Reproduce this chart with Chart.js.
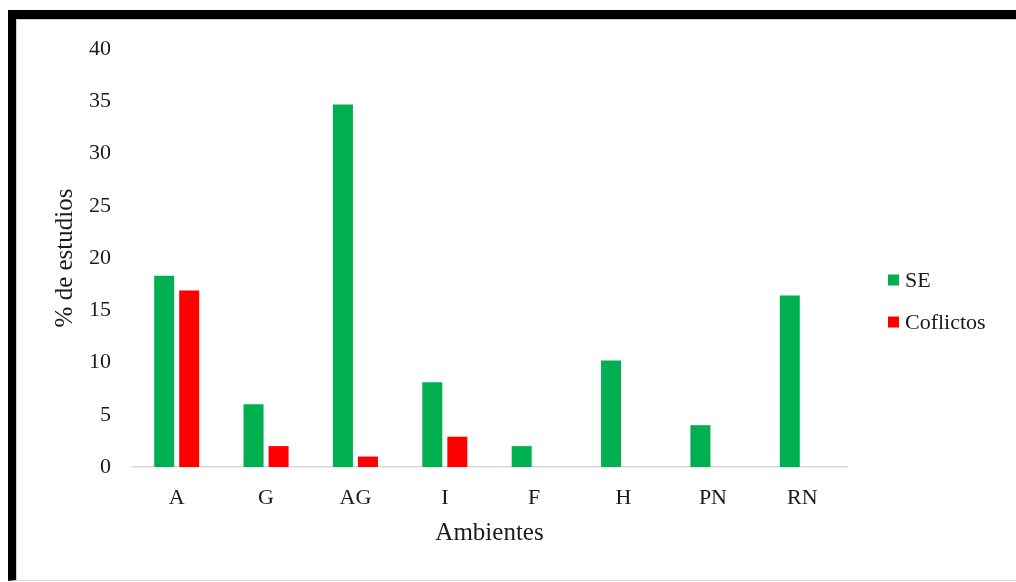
<!DOCTYPE html>
<html>
<head>
<meta charset="utf-8">
<script src="https://cdn.jsdelivr.net/npm/chart.js@4"></script>
<style>
  html, body { margin: 0; padding: 0; background: #ffffff; }
  body { width: 1016px; height: 582px; position: relative; overflow: hidden; }
  #frame {
    position: absolute; left: 8px; top: 10px; width: 1100px; height: 561px;
    border-left: 8px solid #000; border-top: 9px solid #000;
    border-bottom: 1px solid #d9d9d9;
    box-shadow: inset 1px 1px 0 #d0d0d0;
  }
  #wrap { position: absolute; left: 0; top: 0; width: 1016px; height: 582px; }
</style>
</head>
<body>
<div id="frame"></div>
<div id="wrap"><canvas id="chart"></canvas></div>
<script>
// Ambientes (categories) and the two series, in % of studies
const ambientes = ['A', 'G', 'AG', 'I', 'F', 'H', 'PN', 'RN'];
const seValues = [18.3, 6.0, 34.7, 8.1, 2.0, 10.2, 4.0, 16.4];
const conflictValues = [16.9, 2.0, 1.0, 2.9, 0, 0, 0, 0];
const seriesNames = ['SE', 'Coflictos'];
const seriesColors = ['#00B050', '#FF0000'];
const yTicks = [0, 5, 10, 15, 20, 25, 30, 35, 40];

const serif = '"Liberation Serif", "Times New Roman", serif';
const textColor = '#1a1a1a';

// Legend drawn to the right of the plot area, squares + names
const sideLegend = {
  id: 'sideLegend',
  afterDraw(chart) {
    const { ctx, chartArea } = chart;
    const x0 = chartArea.right + 41;
    const mid = (chartArea.top + chartArea.bottom) / 2 + 43;
    const gap = 42;
    ctx.save();
    ctx.font = '22px ' + serif;
    ctx.textBaseline = 'middle';
    ctx.textAlign = 'left';
    chart.data.datasets.forEach((ds, i) => {
      const y = mid + (i - (chart.data.datasets.length - 1) / 2) * gap;
      ctx.fillStyle = ds.backgroundColor;
      ctx.fillRect(x0, y - 5.5, 11, 11);
      ctx.fillStyle = textColor;
      ctx.fillText(ds.label, x0 + 17, y + 1);
    });
    ctx.restore();
  }
};

new Chart(document.getElementById('chart'), {
  type: 'bar',
  data: {
    labels: ambientes,
    datasets: [
      { label: seriesNames[0], data: seValues, backgroundColor: seriesColors[0], borderWidth: 0 },
      { label: seriesNames[1], data: conflictValues, backgroundColor: seriesColors[1], borderWidth: 0 }
    ]
  },
  options: {
    responsive: true,
    maintainAspectRatio: false,
    animation: false,
    events: [],
    layout: { padding: { top: 49, right: 169, left: 0, bottom: 0 } },
    datasets: { bar: { categoryPercentage: 0.56, barPercentage: 0.8 } },
    plugins: { legend: { display: false }, tooltip: { enabled: false } },
    scales: {
      x: {
        grid: { display: false, drawTicks: false },
        border: { display: true, color: '#d9d9d9', width: 1.5 },
        ticks: { color: textColor, font: { family: serif, size: 22 }, padding: 18 },
        title: {
          display: true, text: 'Ambientes', color: textColor,
          font: { family: serif, size: 25 }, padding: { top: 0, bottom: 34 }
        },
        afterFit(scale) { scale.height = 115; }
      },
      y: {
        min: 0, max: 40,
        afterBuildTicks(scale) { scale.ticks = yTicks.map(v => ({ value: v })); },
        grid: { display: false, drawTicks: false },
        border: { display: false },
        ticks: { color: textColor, font: { family: serif, size: 22 }, padding: 21 },
        title: {
          display: true, text: '% de estudios', color: textColor,
          font: { family: serif, size: 25 }, padding: { top: 50, bottom: 0 }
        },
        afterFit(scale) { scale.width = 132; }
      }
    }
  },
  plugins: [sideLegend]
});
</script>
</body>
</html>
